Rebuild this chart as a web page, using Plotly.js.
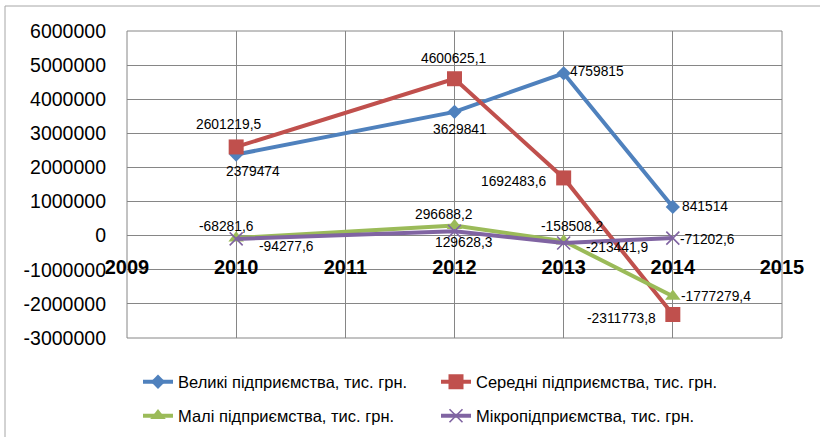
<!DOCTYPE html>
<html><head><meta charset="utf-8">
<script src="https://cdn.plot.ly/plotly-3.0.1.min.js"></script>
<style>html,body{margin:0;padding:0;background:#fff}#c{width:820px;height:437px}</style>
</head><body><div id="c"></div>
<script>
const years = [2010, 2012, 2013, 2014];
const axisYears = [2009, 2010, 2011, 2012, 2013, 2014, 2015];
const yTicks = [-3000000, -2000000, -1000000, 0, 1000000, 2000000, 3000000, 4000000, 5000000, 6000000];
const names = ['Великі підприємства, тис. грн.', 'Середні підприємства, тис. грн.', 'Малі підприємства, тис. грн.', 'Мікропідприємства, тис. грн.'];
const large = [2379474, 3629841, 4759815, 841514];
const medium = [2601219.5, 4600625.1, 1692483.6, -2311773.8];
const small = [-68281.6, 296688.2, -158508.2, -1777279.4];
const micro = [-94277.6, 129628.3, -213441.9, -71202.6];

const series = [large, medium, small, micro];
const colors = ['#4F81BD', '#C0504D', '#9BBB59', '#8064A2'];
const symbols = ['diamond', 'square', 'triangle-up', 'x-thin'];
const msizes = [11, 15, 13.5, 13];
const legends = ['legend', 'legend', 'legend2', 'legend2'];
// label offsets (px) per series per point
const offsets = [
  [[17, -17], [5, -18], [33, 2], [32, 0]],
  [[-7, 22], [-1, 20], [-50, -4], [-51, -4]],
  [[-10, 12], [-11, 11], [8, 15], [43, 0]],
  [[50, -8], [9, -11], [53, -5], [35, -1]]
];

const fmt = v => String(v).replace('.', ',');

const traces = series.map((vals, i) => ({
  type: 'scatter', mode: 'lines+markers', name: names[i],
  x: years, y: vals, legend: legends[i],
  line: {color: colors[i], width: 4},
  marker: {symbol: symbols[i], size: msizes[i], color: colors[i],
           line: {color: colors[i], width: i === 3 ? 1.6 : 0}},
  cliponaxis: false
}));

const annotations = [];
series.forEach((vals, i) => vals.forEach((v, j) => {
  annotations.push({x: years[j], y: v, xref: 'x', yref: 'y', text: fmt(v), showarrow: false,
    xshift: offsets[i][j][0], yshift: offsets[i][j][1],
    font: {family: 'Liberation Sans, Arial, sans-serif', size: 13.8, color: '#000'}});
}));

const gridColor = '#868686';
const legFont = {family: 'Liberation Sans, Arial, sans-serif', size: 16.5, color: '#000'};
const layout = {
  width: 820, height: 437,
  margin: {l: 127, r: 38, t: 31, b: 99},
  paper_bgcolor: '#fff', plot_bgcolor: '#fff',
  showlegend: true,
  xaxis: {type: 'linear', range: [2009, 2015], tickvals: axisYears, ticktext: axisYears.map(String),
    anchor: 'free', position: 3/9, showgrid: true, gridcolor: gridColor, gridwidth: 1,
    zeroline: false, showline: false, ticks: '', ticklabelstandoff: 17,
    tickfont: {family: 'Liberation Sans, Arial, sans-serif', size: 20, color: '#000', weight: 'bold'}},
  yaxis: {range: [-3000000, 6000000], tickvals: yTicks, ticktext: yTicks.map(String),
    showgrid: true, gridcolor: gridColor, gridwidth: 1, zeroline: false, showline: false,
    ticks: '', ticklabelstandoff: 20,
    tickfont: {family: 'Liberation Sans, Arial, sans-serif', size: 19.5, color: '#000'}},
  legend: {orientation: 'h', xref: 'container', yref: 'container', x: 138/820, y: 55/437,
    xanchor: 'left', yanchor: 'middle', entrywidth: 253, entrywidthmode: 'pixels',
    font: legFont, bgcolor: 'rgba(0,0,0,0)'},
  legend2: {orientation: 'h', xref: 'container', yref: 'container', x: 138/820, y: 21/437,
    xanchor: 'left', yanchor: 'middle', entrywidth: 253, entrywidthmode: 'pixels',
    font: legFont, bgcolor: 'rgba(0,0,0,0)'},
  shapes: [
    {type: 'rect', xref: 'paper', yref: 'paper', x0: 0, x1: 1, y0: 0, y1: 1, line: {color: gridColor, width: 1}, layer: 'below'},
    {type: 'rect', xref: 'paper', yref: 'paper', x0: -122/655, x1: 1.2, y0: -0.4, y1: 332/307, line: {color: '#a6a6a6', width: 1}, layer: 'below'}
  ],
  annotations: annotations
};

Plotly.newPlot('c', traces, layout, {displayModeBar: false, staticPlot: true});
</script></body></html>
